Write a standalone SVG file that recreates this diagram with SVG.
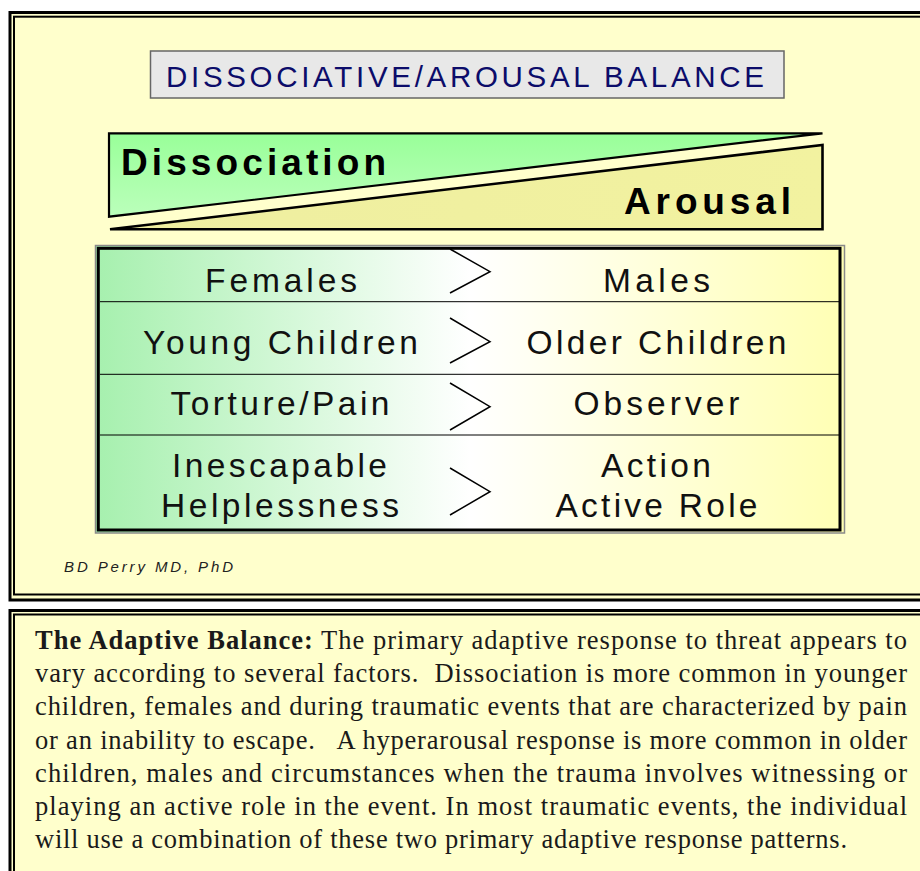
<svg xmlns="http://www.w3.org/2000/svg" width="920" height="871" viewBox="0 0 920 871">
<defs>
<linearGradient id="gTable" x1="0" y1="0" x2="1" y2="0">
<stop offset="0" stop-color="#a6f0ae"/>
<stop offset="0.5" stop-color="#ffffff"/>
<stop offset="1" stop-color="#ffffb4"/>
</linearGradient>
<linearGradient id="gDis" x1="0" y1="0" x2="0" y2="1">
<stop offset="0" stop-color="#99ff99"/>
<stop offset="1" stop-color="#bbffbb"/>
</linearGradient>
<linearGradient id="gAro" x1="0" y1="0" x2="1" y2="0">
<stop offset="0" stop-color="#eeeea0"/>
<stop offset="1" stop-color="#f2f2a0"/>
</linearGradient>
<style>
.panel{fill:#ffffcc;stroke:#000;stroke-width:3}
.pin{fill:none;stroke:#000;stroke-width:2}
.cell{font-family:"Liberation Sans",Arial,sans-serif;font-size:33.5px;fill:#111}
.big{font-family:"Liberation Sans",Arial,sans-serif;font-size:37px;font-weight:bold;fill:#000}
.chev{fill:none;stroke:#000;stroke-width:1.5}
.row{stroke:#000;stroke-width:1}
.body{font-family:"Liberation Serif","Times New Roman",serif;font-size:26.5px;fill:#1a1a1a;white-space:pre}
</style>
</defs>
<rect width="920" height="871" fill="#ffffff"/>
<g id="panel-top">
<rect class="panel" x="10" y="12.5" width="920" height="587.5"/>
<rect class="pin" x="14" y="16.7" width="920" height="577.8"/>
</g>
<g id="panel-bottom">
<rect class="panel" x="10" y="610.5" width="920" height="300"/>
<rect class="pin" x="14" y="614.5" width="920" height="300"/>
</g>
<g id="title">
<rect x="150.5" y="51" width="633.5" height="47" fill="#e8e8e8" stroke="#666" stroke-width="1.5"/>
<text x="166" y="87" textLength="598" lengthAdjust="spacing" font-family="'Liberation Sans',Arial,sans-serif" font-size="29.5" fill="#0c0c6a">DISSOCIATIVE/AROUSAL BALANCE</text>
</g>
<g id="dissociation">
<polygon points="109,133.3 822.5,133.3 109,216.7" fill="url(#gDis)" stroke="#000" stroke-width="2.2" stroke-linejoin="miter"/>
<text class="big" x="121" y="175" textLength="265" lengthAdjust="spacing">Dissociation</text>
</g>
<g id="arousal">
<polygon points="110,229.3 822.5,145 822.5,229.3" fill="url(#gAro)" stroke="#000" stroke-width="2.6" stroke-linejoin="miter"/>
<text class="big" x="624" y="214" textLength="167" lengthAdjust="spacing">Arousal</text>
</g>
<g id="table">
<rect x="95.5" y="245.5" width="749" height="287.5" fill="url(#gTable)" stroke="#8a8a8a" stroke-width="1.5"/>
<rect x="98.3" y="248.3" width="741.7" height="281.7" fill="none" stroke="#000" stroke-width="3"/>
</g>
<g id="connectors">
<line class="row" x1="100" y1="301.7" x2="839" y2="301.7"/>
<line class="row" x1="100" y1="374.3" x2="839" y2="374.3"/>
<line class="row" x1="100" y1="435" x2="839" y2="435"/>
<polyline class="chev" points="450,249 490,271.7 450,293"/>
<polyline class="chev" points="450,318 490,341.7 450,363"/>
<polyline class="chev" points="450,383 490,406.7 450,430"/>
<polyline class="chev" points="450,468 490,491.7 450,515"/>
</g>
<g id="row-females">
<text class="cell" x="205" y="291.7" textLength="152" lengthAdjust="spacing">Females</text>
<text class="cell" x="603" y="291.7" textLength="107" lengthAdjust="spacing">Males</text>
</g>
<g id="row-children">
<text class="cell" x="143" y="354" textLength="275" lengthAdjust="spacing">Young Children</text>
<text class="cell" x="526.5" y="354" textLength="260" lengthAdjust="spacing">Older Children</text>
</g>
<g id="row-torture">
<text class="cell" x="170.5" y="415" textLength="219" lengthAdjust="spacing">Torture/Pain</text>
<text class="cell" x="573.5" y="415" textLength="166" lengthAdjust="spacing">Observer</text>
</g>
<g id="row-helpless">
<text class="cell" x="172" y="476.7" textLength="215" lengthAdjust="spacing">Inescapable</text>
<text class="cell" x="161" y="516.7" textLength="238" lengthAdjust="spacing">Helplessness</text>
<text class="cell" x="601" y="476.7" textLength="110" lengthAdjust="spacing">Action</text>
<text class="cell" x="555.5" y="516.7" textLength="202" lengthAdjust="spacing">Active Role</text>
</g>
<g id="credit">
<text x="64" y="572" textLength="169" lengthAdjust="spacing" font-family="'Liberation Sans',Arial,sans-serif" font-size="15" font-style="italic" fill="#222">BD Perry MD, PhD</text>
</g>
<g id="body-text">
<text class="body" x="35" y="649" textLength="872" lengthAdjust="spacing"><tspan font-weight="bold">The Adaptive Balance:</tspan> The primary adaptive response to threat appears to</text>
<text class="body" x="35" y="682" textLength="872" lengthAdjust="spacing">vary according to several factors.  Dissociation is more common in younger</text>
<text class="body" x="35" y="715" textLength="872" lengthAdjust="spacing">children, females and during traumatic events that are characterized by pain</text>
<text class="body" x="35" y="748.5" textLength="872" lengthAdjust="spacing">or an inability to escape.   A hyperarousal response is more common in older</text>
<text class="body" x="35" y="781.5" textLength="872" lengthAdjust="spacing">children, males and circumstances when the trauma involves witnessing or</text>
<text class="body" x="35" y="814.5" textLength="872" lengthAdjust="spacing">playing an active role in the event. In most traumatic events, the individual</text>
<text class="body" x="35" y="847.5" textLength="812" lengthAdjust="spacing">will use a combination of these two primary adaptive response patterns.</text>
</g>
</svg>
